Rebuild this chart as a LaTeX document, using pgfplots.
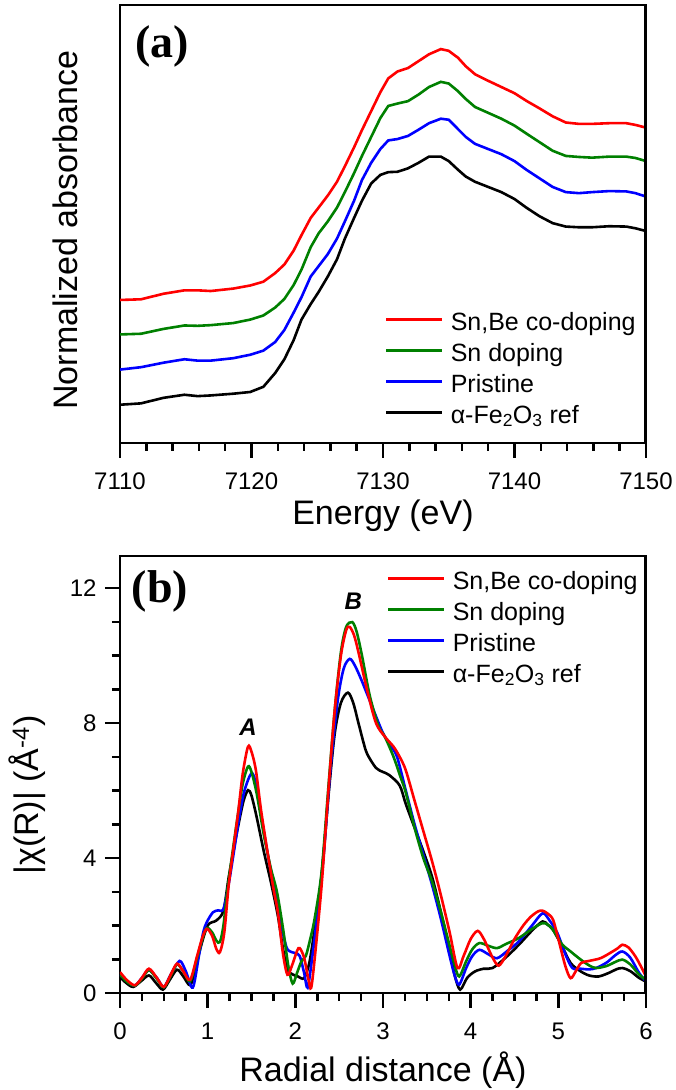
\documentclass[border=0pt]{standalone}
\usepackage{fontspec}
\setmainfont{Liberation Sans}
\newfontfamily\serifpanel{Liberation Serif}
\usepackage{pgfplots}
\usepackage{pgfplotstable}
\pgfplotsset{compat=1.18}

\definecolor{cred}{RGB}{255,0,0}
\definecolor{cgreen}{RGB}{0,128,0}
\definecolor{cblue}{RGB}{0,0,255}

\newcommand\tickfont{\fontsize{24}{28}\selectfont}
\newcommand\labelfont{\fontsize{34}{40}\selectfont}
\newcommand\legfont{\fontsize{25}{30}\selectfont}
\newcommand\panelfont{\serifpanel\bfseries\fontsize{46}{50}\selectfont}
\newcommand\peakfont{\bfseries\itshape\fontsize{24}{28}\selectfont}

\pgfplotstableread{
E      r      g      b     k
7110.0 4.15  3.15  2.13  1.11
7111.6 4.17  3.17  2.20  1.15
7113.3 4.33  3.31  2.33  1.31
7114.9 4.43  3.41  2.43  1.40
7115.9 4.43  3.40  2.39  1.36
7116.9 4.41  3.42  2.39  1.38
7118.6 4.48  3.48  2.46  1.43
7119.9 4.57  3.58  2.56  1.48
7120.9 4.68  3.70  2.68  1.63
7121.8 4.93  3.93  2.93  2.03
7122.5 5.18  4.18  3.28  2.43
7123.2 5.58  4.58  3.78  2.98
7123.8 6.03  5.03  4.23  3.58
7124.5 6.53  5.68  4.83  4.03
7125.1 6.83  6.08  5.13  4.38
7125.8 7.18  6.43  5.48  4.83
7126.5 7.58  6.83  5.93  5.33
7127.1 8.03  7.28  6.43  5.93
7127.8 8.58  7.83  7.03  6.53
7128.4 9.08  8.33  7.63  7.03
7129.1 9.63  8.88  8.13  7.53
7129.8 10.18 9.43  8.53  7.78
7130.4 10.58 9.78  8.78  7.86
7131.1 10.78 9.85  8.82  7.87
7131.9 10.88 9.92  8.91  7.97
7132.7 11.08 10.11 9.09  8.13
7133.5 11.28 10.33 9.28  8.31
7134.4 11.43 10.48 9.41  8.31
7135.0 11.38 10.43 9.38  8.18
7135.7 11.18 10.21 9.11  7.93
7136.3 10.93 9.98  8.88  7.73
7137.0 10.70 9.75  8.68  7.58
7138.0 10.51 9.58  8.53  7.43
7139.0 10.33 9.41  8.38  7.28
7140.0 10.15 9.21  8.18  7.08
7140.9 9.93  8.98  7.93  6.83
7141.9 9.71  8.73  7.68  6.58
7142.9 9.48  8.48  7.43  6.38
7143.9 9.30  8.33  7.28  6.28
7144.9 9.26  8.30  7.25  6.26
7145.9 9.26  8.28  7.28  6.26
7147.2 9.28  8.31  7.31  6.29
7148.5 9.28  8.31  7.30  6.28
7149.2 9.23  8.27  7.25  6.23
7150.0 9.15  8.18  7.15  6.15
}\xanes

\pgfplotstableread{
R y
0.00 0.62
0.08 0.38
0.17 0.23
0.25 0.45
0.33 0.72
0.42 0.45
0.50 0.18
0.58 0.55
0.65 0.87
0.72 0.65
0.80 0.39
0.88 1.10
0.94 1.65
0.99 1.90
1.05 1.70
1.10 1.30
1.14 1.21
1.19 1.80
1.24 3.20
1.30 4.40
1.35 5.40
1.40 6.50
1.46 7.30
1.50 7.15
1.55 6.60
1.61 5.40
1.69 4.06
1.75 3.10
1.80 2.40
1.86 1.15
1.91 0.54
1.96 0.80
2.02 1.25
2.05 1.33
2.10 1.05
2.15 0.40
2.18 0.15
2.22 1.00
2.30 3.20
2.38 6.10
2.45 8.40
2.52 10.00
2.58 10.75
2.62 10.85
2.67 10.60
2.72 10.10
2.82 8.96
2.92 8.00
3.02 7.60
3.12 7.30
3.19 7.00
3.26 6.60
3.36 5.70
3.46 4.80
3.56 3.90
3.66 2.90
3.76 1.80
3.85 0.74
3.92 1.10
4.00 1.60
4.08 1.84
4.15 1.60
4.25 1.05
4.32 0.81
4.40 1.10
4.50 1.60
4.60 2.00
4.69 2.27
4.77 2.42
4.82 2.44
4.88 2.35
4.94 2.17
5.00 1.60
5.08 0.80
5.14 0.44
5.20 0.65
5.26 0.89
5.35 0.95
5.48 1.03
5.60 1.20
5.68 1.33
5.73 1.43
5.80 1.35
5.88 1.08
5.95 0.75
6.00 0.49
}\ftred

\pgfplotstableread{
R y
0.00 0.55
0.08 0.33
0.17 0.22
0.25 0.42
0.33 0.68
0.42 0.42
0.50 0.17
0.58 0.52
0.65 0.85
0.72 0.65
0.80 0.35
0.88 1.05
0.94 1.60
0.99 1.93
1.05 1.80
1.10 1.55
1.14 1.51
1.18 2.00
1.22 2.94
1.28 4.10
1.34 5.20
1.40 6.20
1.46 6.71
1.50 6.55
1.56 5.90
1.64 4.70
1.72 3.70
1.79 3.00
1.86 1.90
1.92 0.80
1.97 0.28
2.02 0.60
2.07 0.94
2.12 1.10
2.17 1.60
2.22 2.20
2.30 3.60
2.38 6.20
2.45 8.40
2.52 10.10
2.58 10.85
2.65 10.99
2.70 10.70
2.76 10.00
2.85 8.80
2.95 7.90
3.02 7.60
3.12 7.00
3.20 6.40
3.26 5.94
3.36 4.90
3.46 4.00
3.56 3.30
3.66 2.40
3.76 1.40
3.82 0.80
3.87 0.49
3.95 0.95
4.02 1.30
4.10 1.48
4.20 1.40
4.30 1.33
4.40 1.45
4.55 1.63
4.70 1.90
4.82 2.07
4.88 2.02
4.94 1.87
5.04 1.45
5.14 1.23
5.25 1.00
5.35 0.82
5.43 0.74
5.55 0.80
5.65 0.92
5.73 0.99
5.82 0.85
5.92 0.55
6.00 0.39
}\ftgreen

\pgfplotstableread{
R y
0.00 0.55
0.08 0.35
0.17 0.22
0.25 0.45
0.33 0.68
0.42 0.45
0.50 0.18
0.58 0.55
0.68 0.95
0.75 0.65
0.83 0.16
0.90 1.10
0.95 1.80
0.99 2.10
1.06 2.39
1.12 2.45
1.18 2.49
1.24 3.23
1.30 4.20
1.36 5.20
1.42 6.00
1.50 6.51
1.55 6.20
1.62 5.10
1.70 3.90
1.78 2.90
1.84 2.00
1.90 1.35
1.95 1.22
2.00 1.18
2.05 1.10
2.10 0.60
2.14 0.16
2.19 1.00
2.25 2.30
2.32 4.00
2.40 6.60
2.48 8.60
2.55 9.60
2.62 9.90
2.68 9.70
2.75 9.30
2.82 8.85
2.92 8.20
3.00 7.70
3.08 7.35
3.16 7.00
3.26 6.00
3.36 5.00
3.46 4.10
3.56 3.20
3.66 2.20
3.76 1.10
3.82 0.50
3.87 0.25
3.95 0.75
4.02 1.10
4.10 1.28
4.20 1.15
4.30 1.03
4.42 1.25
4.55 1.53
4.70 2.00
4.82 2.36
4.90 2.15
4.99 1.77
5.08 1.15
5.16 0.74
5.25 0.72
5.35 0.70
5.43 0.74
5.55 0.90
5.65 1.12
5.73 1.23
5.82 1.05
5.92 0.60
6.00 0.34
}\ftblue

\pgfplotstableread{
R y
0.00 0.47
0.07 0.30
0.15 0.18
0.24 0.35
0.33 0.52
0.41 0.30
0.49 0.10
0.57 0.40
0.65 0.69
0.72 0.50
0.80 0.23
0.86 0.70
0.91 1.26
1.00 2.00
1.10 2.15
1.18 2.44
1.24 3.43
1.30 4.30
1.36 5.10
1.41 5.70
1.46 6.01
1.50 5.85
1.56 5.20
1.64 4.20
1.72 3.30
1.80 2.30
1.86 1.30
1.91 0.69
1.97 0.55
2.03 0.49
2.10 0.44
2.16 0.90
2.22 1.90
2.30 3.50
2.38 5.90
2.45 7.70
2.52 8.60
2.60 8.90
2.66 8.60
2.72 8.00
2.78 7.40
2.82 7.08
2.92 6.67
3.00 6.55
3.07 6.46
3.19 6.15
3.26 5.60
3.36 4.90
3.46 4.20
3.56 3.44
3.66 2.40
3.76 1.25
3.82 0.50
3.88 0.10
3.96 0.45
4.05 0.64
4.15 0.72
4.25 0.74
4.40 1.05
4.55 1.43
4.70 1.85
4.82 2.12
4.88 2.02
4.94 1.87
5.04 1.40
5.14 0.89
5.25 0.65
5.35 0.52
5.46 0.49
5.58 0.60
5.66 0.70
5.73 0.74
5.82 0.65
5.92 0.45
6.00 0.34
}\ftblack

\pgfplotsset{
  myaxis/.style={
    scale only axis, width=526pt, anchor=south west,
    axis line style={line width=2.8pt},
    every tick/.style={line width=2.5pt, black},
    major tick length=15pt, minor tick length=8pt,
    tick align=outside, xtick pos=bottom, ytick pos=left,
    ticklabel style={font=\tickfont},
    xticklabel style={yshift=-11pt},
    yticklabel style={xshift=-5pt},
    /pgf/number format/assume math mode=true,
    every axis plot/.append style={line width=2.6pt},
    legend cell align=left,
    legend style={draw=none, fill=none, font=\legfont, inner sep=0pt,
      column sep=7pt, row sep=0pt,
      nodes={inner sep=0pt, text height=18pt, text depth=13pt}},
    legend image code/.code={\draw[##1, line width=2.6pt] (0pt,8pt) -- (56pt,8pt);},
  }
}

\begin{document}
\begin{tikzpicture}
% ---------- (a) XANES ----------
\begin{axis}[myaxis,
  at={(120pt,647pt)}, height=438pt,
  xmin=7110, xmax=7150, ymin=0, ymax=12.71,
  xtick={7110,7120,7130,7140,7150}, minor x tick num=4,
  ytick=\empty,
  xticklabel style={/pgf/number format/1000 sep={}},
  xlabel={Energy (eV)},
  ylabel={Normalized absorbance},
  every axis x label/.style={at={(axis description cs:0.5,0)}, yshift=-73pt, anchor=center, font=\labelfont},
  every axis y label/.style={at={(axis description cs:-0.1046,0.486)}, rotate=90, anchor=center, font=\labelfont},
  legend style={at={(axis description cs:0.5038,0.299)}, anchor=north west},
]
\addplot[cred]   table[x=E,y=r] {\xanes};
\addlegendentry{Sn,Be co-doping}
\addplot[cgreen] table[x=E,y=g] {\xanes};
\addlegendentry{Sn doping}
\addplot[cblue]  table[x=E,y=b] {\xanes};
\addlegendentry{Pristine}
\addplot[black]  table[x=E,y=k] {\xanes};
\addlegendentry{α-Fe\textsubscript{2}O\textsubscript{3} ref}
\node[font=\panelfont] at (rel axis cs:0.080,0.906) {(a)};
\draw[line width=3.4pt] (rel axis cs:1,0) -- (rel axis cs:1,1);
\end{axis}

% ---------- (b) FT-EXAFS ----------
\begin{axis}[myaxis,
  at={(120pt,97pt)}, height=437pt,
  xmin=0, xmax=6, ymin=0, ymax=12.95,
  xtick={0,1,2,3,4,5,6}, minor x tick num=3,
  ytick={0,4,8,12}, minor y tick num=3,
  xlabel={Radial distance (Å)},
  ylabel={|χ(R)| (Å\textsuperscript{-4})},
  every axis x label/.style={at={(axis description cs:0.5,0)}, yshift=-77pt, anchor=center, font=\labelfont},
  every axis y label/.style={at={(axis description cs:-0.177,0.453)}, rotate=90, anchor=center, font=\labelfont},
  legend style={at={(axis description cs:0.5076,0.966)}, anchor=north west},
  reverse legend,
]
\addplot[black, smooth, tension=0.5]  table[x=R,y=y] {\ftblack};
\addlegendentry{α-Fe\textsubscript{2}O\textsubscript{3} ref}
\addplot[cblue, smooth, tension=0.5]  table[x=R,y=y] {\ftblue};
\addlegendentry{Pristine}
\addplot[cgreen, smooth, tension=0.5] table[x=R,y=y] {\ftgreen};
\addlegendentry{Sn doping}
\addplot[cred, smooth, tension=0.5]   table[x=R,y=y] {\ftred};
\addlegendentry{Sn,Be co-doping}
\node[font=\panelfont] at (rel axis cs:0.076,0.918) {(b)};
\node[font=\peakfont] at (axis cs:1.46,7.88) {A};
\node[font=\peakfont] at (axis cs:2.66,11.6) {B};
\draw[line width=3.4pt] (rel axis cs:1,0) -- (rel axis cs:1,1);
\end{axis}
\pgfresetboundingbox
\path[use as bounding box] (0pt,0pt) rectangle (675pt,1090pt);
\end{tikzpicture}
\end{document}
